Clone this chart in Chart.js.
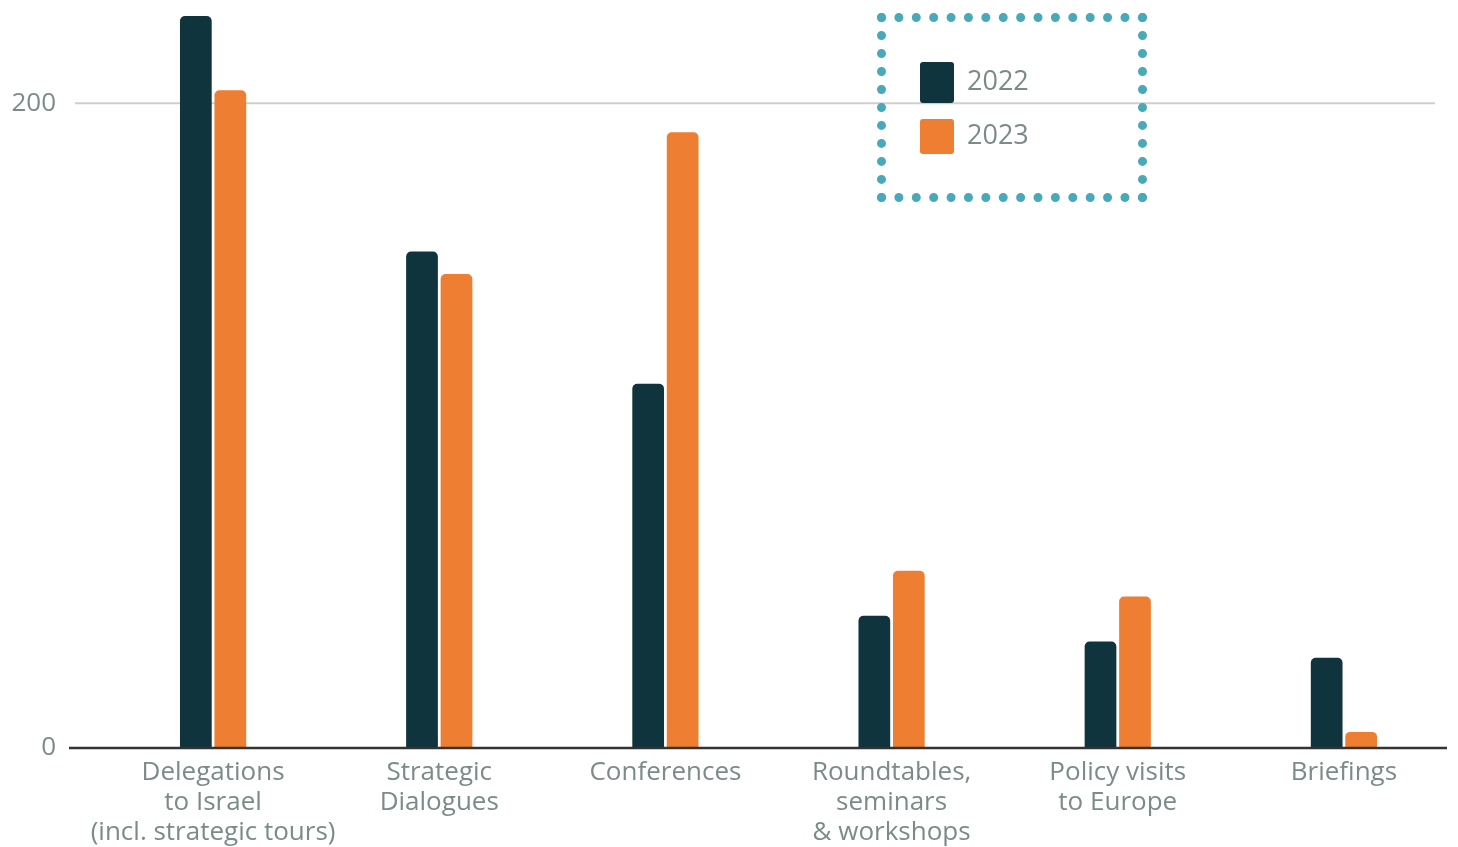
<!DOCTYPE html>
<html>
<head>
    <meta charset="UTF-8">
    <title>Activities 2022 / 2023</title>
    <script src="https://cdn.jsdelivr.net/npm/chart.js"></script>
    <style>
        html, body { margin: 0; padding: 0; background: #fff; }
        #wrap { position: relative; width: 1458px; height: 847px; }
        #legendBox {
            position: absolute; left: 877px; top: 13px;
            width: 252px; height: 171px;
            border: 9px dotted #47a9b9;
            font-family: "Open Sans", Lato, sans-serif;
        }
        .item { position: absolute; left: 34px; display: flex; align-items: center; }
        .swatch { width: 34px; border-radius: 3px; margin-right: 13px; }
        .item span { font-size: 27px; color: #7b8b89; position: relative; top: -3px; }
    </style>
</head>
<body>
<div id="wrap">
    <canvas id="activityChart"></canvas>
    <div id="legendBox"></div>
</div>

<script>
    // categories and values
    var categories = [
        ['Delegations', 'to Israel', '(incl. strategic tours)'],
        ['Strategic', 'Dialogues'],
        ['Conferences'],
        ['Roundtables,', 'seminars', '& workshops'],
        ['Policy visits', 'to Europe'],
        ['Briefings']
    ];
    var values2022 = [227, 154, 113, 41, 33, 28];
    var values2023 = [204, 147, 191, 55, 47, 5];
    var yTicks = [0, 200];

    var dark = '#0f343d';
    var orange = '#ed7e32';
    var grey = '#7b8b89';

    // lines at 200 and 0
    var axisLines = {
        id: 'axisLines',
        beforeDatasetsDraw: function (chart) {
            var ctx = chart.ctx, y = chart.scales.y, a = chart.chartArea;
            var py = y.getPixelForValue(200);
            ctx.save();
            ctx.strokeStyle = '#cfcfcf';
            ctx.lineWidth = 2;
            ctx.beginPath();
            ctx.moveTo(a.left - 25, py);
            ctx.lineTo(a.right - 22, py);
            ctx.stroke();
            ctx.restore();
        },
        afterDatasetsDraw: function (chart) {
            var ctx = chart.ctx, y = chart.scales.y, a = chart.chartArea;
            var py = y.getPixelForValue(0);
            ctx.save();
            ctx.strokeStyle = '#333';
            ctx.lineWidth = 2.5;
            ctx.beginPath();
            ctx.moveTo(a.left - 31, py);
            ctx.lineTo(a.right - 10, py);
            ctx.stroke();
            ctx.restore();
        }
    };

    var chart = new Chart('activityChart', {
        type: 'bar',
        data: {
            labels: categories,
            datasets: [
                {
                    label: '2022',
                    data: values2022,
                    backgroundColor: dark,
                    borderRadius: { topLeft: 5, topRight: 5 },
                    borderSkipped: 'bottom',
                    categoryPercentage: 0.305,
                    barPercentage: 0.92
                },
                {
                    label: '2023',
                    data: values2023,
                    backgroundColor: orange,
                    borderRadius: { topLeft: 5, topRight: 5 },
                    borderSkipped: 'bottom',
                    categoryPercentage: 0.305,
                    barPercentage: 0.92
                }
            ]
        },
        options: {
            responsive: true,
            maintainAspectRatio: false,
            animation: false,
            layout: { autoPadding: false, padding: { top: 0, right: 1, left: 0, bottom: 0 } },
            plugins: {
                legend: { display: false },
                tooltip: { enabled: false }
            },
            scales: {
                x: {
                    grid: { display: false, drawTicks: false },
                    border: { display: false },
                    ticks: {
                        color: grey,
                        padding: 10,
                        maxRotation: 0,
                        autoSkip: false,
                        font: { family: 'Open Sans', size: 26, lineHeight: '30px' }
                    },
                    afterFit: function (s) { s.height = 99; }
                },
                y: {
                    min: 0,
                    max: 232,
                    grid: { display: false, drawTicks: false },
                    border: { display: false },
                    afterBuildTicks: function (s) {
                        s.ticks = yTicks.map(function (v) { return { value: v }; });
                    },
                    ticks: {
                        color: grey,
                        padding: 44,
                        font: { family: 'Open Sans', size: 26 }
                    },
                    afterFit: function (s) {
                        s.width = 100;
                        s.paddingTop = 0;
                        s.paddingBottom = 0;
                    }
                }
            }
        },
        plugins: [axisLines]
    });

    // legend inside the dotted box
    var box = document.getElementById('legendBox');
    var tops = [40, 96];
    var heights = [41, 35];
    chart.data.datasets.forEach(function (ds, i) {
        var item = document.createElement('div');
        item.className = 'item';
        item.style.top = tops[i] + 'px';
        var sw = document.createElement('div');
        sw.className = 'swatch';
        sw.style.background = ds.backgroundColor;
        sw.style.height = heights[i] + 'px';
        var t = document.createElement('span');
        t.textContent = ds.label;
        item.appendChild(sw);
        item.appendChild(t);
        box.appendChild(item);
    });
</script>
</body>
</html>
